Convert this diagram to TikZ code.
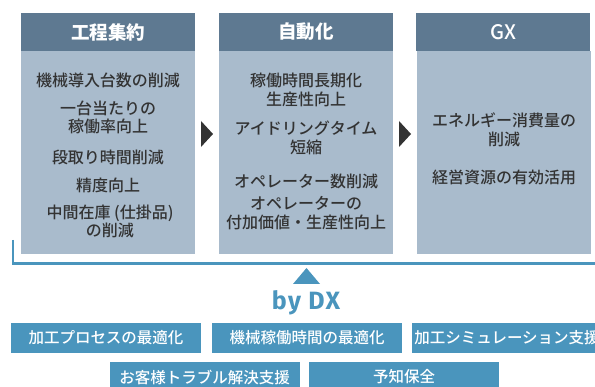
\documentclass[tikz,border=0pt]{standalone}
\usepackage{fontspec}
\setmainfont{Noto Sans CJK JP}
\newfontfamily\jpmed{Noto Sans CJK JP Medium}
\newfontfamily\dxfont{Fira Sans Bold}[LetterSpace=6]
\definecolor{hdr}{RGB}{94,121,145}
\definecolor{bodyc}{RGB}{169,187,204}
\definecolor{dxblue}{RGB}{74,149,189}
\definecolor{txt}{RGB}{51,51,51}
\tikzset{
  hdrbox/.style={fill=hdr, text=white, inner sep=0pt, outer sep=0pt,
    minimum width=174pt, minimum height=38pt, font=\fontsize{18.5}{20}\selectfont\bfseries},
  bodybox/.style={fill=bodyc, inner sep=0pt, outer sep=0pt,
    minimum width=174pt, minimum height=203pt},
  item/.style={text=txt, align=center, inner sep=0pt, font=\fontsize{16}{18.8}\jpmed},
  dxbox/.style={fill=dxblue, text=white, inner sep=0pt, outer sep=0pt,
    minimum width=190pt, minimum height=30pt, font=\fontsize{15.5}{17}\jpmed},
  nextarrow/.style={fill=txt},
}
\begin{document}
\begin{tikzpicture}[x=1pt,y=-1pt]
\clip (0,0) rectangle (595,387);
\fill[white] (0,0) rectangle (595,387);
% columns
\node[hdrbox] (h1) at (108,32) {工程集約};
\node[bodybox] (b1) at (108,152.5) {};
\node[hdrbox] (h2) at (306,32) {自動化};
\node[bodybox] (b2) at (306,152.5) {};
\node[hdrbox, font=\fontsize{20}{22}\jpmed] (h3) at (503,32) {GX};
\node[bodybox] (b3) at (504,152.5) {};
% column 1 items
\node[item] (t11) at (108,80) {機械導入台数の削減};
\node[item] (t12) at (108,117.5) {一台当たりの\\稼働率向上};
\node[item] (t13) at (108,157) {段取り時間削減};
\node[item] (t14) at (108,185) {精度向上};
\node[item] (t15) at (110,221.5) {中間在庫 (仕掛品)\\の削減};
% column 2 items
\node[item] (t21) at (306,90) {稼働時間長期化\\生産性向上};
\node[item] (t22) at (306,137.5) {アイドリングタイム\\短縮};
\node[item] (t23) at (306,181) {オペレーター数削減};
\node[item] (t24) at (306,213) {オペレーターの\\付加価値・生産性向上};
% column 3 items
\node[item] (t31) at (504,130) {エネルギー消費量の\\削減};
\node[item] (t32) at (504,177) {経営資源の有効活用};
% arrows between columns
\fill[nextarrow] (201,121) -- (213,134) -- (201,147) -- cycle;
\fill[nextarrow] (399,121) -- (411,134) -- (399,147) -- cycle;
% bracket
\draw[dxblue, line width=2.5pt] (13,240) |- (600,263.5);
% up triangle
\fill[dxblue] (293,284) -- (306.5,268) -- (320,284) -- cycle;
\node[text=dxblue, inner sep=0pt, anchor=base, font=\fontsize{25}{25}\dxfont] (dx) at (306,309.5) {by DX};
% DX boxes
\node[dxbox] (d1) at (106,338) {加工プロセスの最適化};
\node[dxbox] (d2) at (307,338) {機械稼働時間の最適化};
\node[dxbox] (d3) at (507,338) {加工シミュレーション支援};
\node[dxbox] (d4) at (204.5,377) {お客様トラブル解決支援};
\node[dxbox] (d5) at (404,377) {予知保全};
\end{tikzpicture}
\end{document}
